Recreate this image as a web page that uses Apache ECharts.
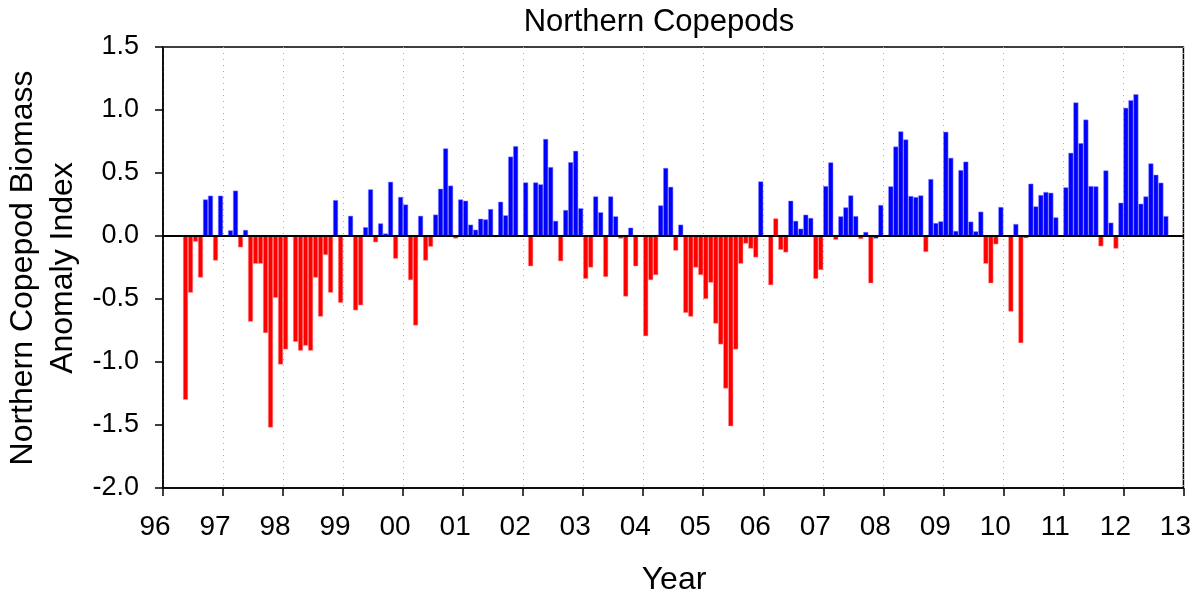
<!DOCTYPE html>
<html>
<head>
<meta charset="utf-8">
<script src="https://cdn.jsdelivr.net/npm/echarts@6/dist/echarts.min.js"></script>
<style>
  html, body { margin: 0; padding: 0; background: #fff; }
  #chart { width: 1194px; height: 594px; }
</style>
</head>
<body>
<div id="chart"></div>
<script>
// Year tick labels
const yearTicks = ['96','97','98','99','00','01','02','03','04','05','06','07','08','09','10','11','12','13'];

// Blue bars (month, anomaly)
const blueMonths = ['1996-09','1996-10','1996-12','1997-02','1997-03','1997-05','1998-11','1999-02','1999-05','1999-06','1999-08','1999-09','1999-10','1999-12',
  '2000-01','2000-04','2000-07','2000-08','2000-09','2000-10','2000-12','2001-01','2001-02','2001-03','2001-04','2001-05','2001-06','2001-08','2001-09','2001-10','2001-11',
  '2002-01','2002-03','2002-04','2002-05','2002-06','2002-07','2002-09','2002-10','2002-11','2002-12','2003-03','2003-04','2003-06','2003-07','2003-10',
  '2004-04','2004-05','2004-06','2004-08','2005-12','2006-06','2006-07','2006-08','2006-09','2006-10','2007-01','2007-02','2007-04','2007-05','2007-06','2007-07','2007-09','2007-11','2007-12',
  '2008-02','2008-03','2008-04','2008-05','2008-06','2008-07','2008-08','2008-10','2008-11','2008-12','2009-01','2009-02','2009-03','2009-04','2009-05','2009-06','2009-07','2009-08','2009-12',
  '2010-03','2010-06','2010-07','2010-08','2010-09','2010-10','2010-11','2011-01','2011-02','2011-03','2011-04','2011-05','2011-06','2011-07','2011-09','2011-10','2011-12',
  '2012-01','2012-02','2012-03','2012-04','2012-05','2012-06','2012-07','2012-08','2012-09'];
const blueValues = [0.29,0.32,0.32,0.045,0.36,0.048,0.285,0.16,0.07,0.37,0.10,0.02,0.43,0.31,
  0.25,0.16,0.17,0.375,0.695,0.40,0.29,0.28,0.09,0.05,0.137,0.132,0.214,0.272,0.164,0.63,0.713,
  0.425,0.425,0.41,0.77,0.547,0.12,0.206,0.586,0.676,0.22,0.314,0.188,0.314,0.156,0.066,
  0.243,0.54,0.39,0.09,0.433,0.28,0.12,0.058,0.169,0.143,0.396,0.584,0.156,0.227,0.322,0.158,0.032,-0.02,0.246,
  0.394,0.71,0.83,0.766,0.317,0.309,0.322,0.452,0.103,0.116,0.827,0.62,0.04,0.523,0.59,0.114,0.037,0.193,0.23,
  0.095,0.415,0.235,0.325,0.349,0.343,0.148,0.386,0.66,1.06,0.737,0.924,0.396,0.394,0.52,0.106,0.264,
  1.017,1.078,1.125,0.256,0.314,0.576,0.486,0.423,0.158];

// Red bars (month, anomaly)
const redMonths = ['1996-05','1996-06','1996-07','1996-08','1996-11','1997-04','1997-06','1997-07','1997-08','1997-09','1997-10','1997-11','1997-12',
  '1998-01','1998-03','1998-04','1998-05','1998-06','1998-07','1998-08','1998-09','1998-10','1998-12','1999-03','1999-04','1999-07','1999-11',
  '2000-02','2000-03','2000-05','2000-06','2000-11','2001-07','2002-02','2002-08','2003-01','2003-02','2003-05','2003-08','2003-09','2003-11',
  '2004-01','2004-02','2004-03','2004-07','2004-09','2004-10','2004-11','2004-12','2005-01','2005-02','2005-03','2005-04','2005-05','2005-06','2005-07','2005-08','2005-09','2005-10','2005-11',
  '2006-02','2006-03','2006-04','2006-05','2006-11','2006-12','2007-03','2007-08','2007-10','2008-09','2009-09','2009-10','2009-11','2010-02','2010-04','2010-05','2011-08','2011-11'];
const redValues = [-1.30,-0.45,-0.045,-0.33,-0.195,-0.09,-0.68,-0.22,-0.22,-0.77,-1.52,-0.49,-1.02,
  -0.90,-0.84,-0.91,-0.87,-0.91,-0.33,-0.64,-0.15,-0.45,-0.53,-0.59,-0.55,-0.05,-0.18,
  -0.35,-0.71,-0.195,-0.085,-0.02,-0.01,-0.24,-0.20,-0.34,-0.25,-0.325,-0.02,-0.48,-0.24,
  -0.795,-0.35,-0.31,-0.116,-0.61,-0.64,-0.25,-0.31,-0.50,-0.37,-0.695,-0.86,-1.21,-1.51,-0.90,-0.22,-0.06,-0.10,-0.17,
  -0.39,0.14,-0.11,-0.13,-0.34,-0.27,-0.03,-0.024,-0.375,-0.127,-0.22,-0.375,-0.066,-0.60,-0.85,-0.018,-0.082,-0.10];

const FONT = '"Liberation Sans", Arial, Helvetica, sans-serif';
const toX = m => { const p = m.split('-').map(Number); return p[0] + (p[1] - 0.5) / 12; };

const chart = echarts.init(document.getElementById('chart'), null, { renderer: 'canvas' });
chart.setOption({
  animation: false,
  backgroundColor: '#fff',
  grid: { left: 163, right: 10, top: 47, bottom: 106, show: true, borderColor: '#000', borderWidth: 1.5, backgroundColor: 'transparent' },
  xAxis: {
    type: 'value', min: 1996, max: 2013, interval: 1,
    axisLine: { onZero: false, lineStyle: { color: '#000', width: 1.5 } },
    axisTick: { show: true, inside: false, length: 8, lineStyle: { color: '#000', width: 1.5 } },
    axisLabel: {
      color: '#000', fontFamily: FONT, fontSize: 28, margin: 25, padding: [0, 16, 0, 0],
      formatter: v => yearTicks[Math.round(v) - 1996]
    },
    splitLine: { show: true, lineStyle: { color: '#aaa', width: 1, type: [1, 5] } }
  },
  yAxis: {
    type: 'value', min: -2, max: 1.5, interval: 0.5,
    axisLine: { show: true, lineStyle: { color: '#000', width: 1.5 } },
    axisTick: { show: true, inside: false, length: 8, lineStyle: { color: '#000', width: 1.5 } },
    axisLabel: { color: '#000', fontFamily: FONT, fontSize: 27, margin: 24, formatter: v => v.toFixed(1) },
    splitLine: { show: false }
  },
  series: [
    {
      type: 'bar', name: 'blue', barWidth: 5, barGap: '-100%',
      itemStyle: { color: '#0000ff', borderColor: '#8c8cff', borderWidth: 0.5 },
      data: blueMonths.map((m, i) => [toX(m), blueValues[i]]),
      markLine: {
        silent: true, symbol: ['none', 'none'], label: { show: false },
        lineStyle: { color: '#000', width: 2, type: 'solid' },
        data: [{ yAxis: 0 }]
      },
      z: 2
    },
    {
      type: 'bar', name: 'red', barWidth: 5, barGap: '-100%',
      itemStyle: { color: '#ff0000', borderColor: '#ff9a9a', borderWidth: 0.5 },
      data: redMonths.map((m, i) => [toX(m), redValues[i]]),
      z: 2
    }
  ],
  graphic: [
    { type: 'text', x: 659, y: 22, style: { text: 'Northern Copepods', font: '31px ' + FONT, fill: '#000', textAlign: 'center', textVerticalAlign: 'middle' } },
    { type: 'text', x: 674, y: 580, style: { text: 'Year', font: '32px ' + FONT, fill: '#000', textAlign: 'center', textVerticalAlign: 'middle' } },
    { type: 'text', x: 23, y: 268, rotation: Math.PI / 2, style: { text: 'Northern Copepod Biomass', font: '32px ' + FONT, fill: '#000', textAlign: 'center', textVerticalAlign: 'middle' } },
    { type: 'text', x: 63, y: 268, rotation: Math.PI / 2, style: { text: 'Anomaly Index', font: '32px ' + FONT, fill: '#000', textAlign: 'center', textVerticalAlign: 'middle' } }
  ]
});
</script>
</body>
</html>
